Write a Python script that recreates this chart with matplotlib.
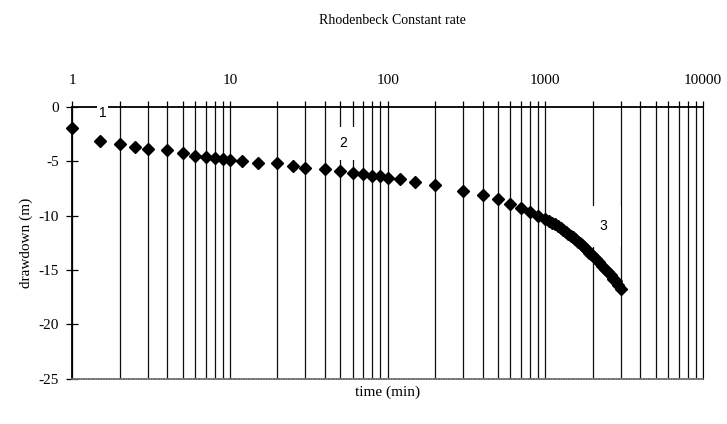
import numpy as np
import matplotlib.pyplot as plt
from matplotlib.ticker import LogLocator, FixedLocator, NullFormatter

# time (min) and drawdown (m)
time_min = [1, 1.5, 2, 2.5, 3, 4, 5, 6, 7, 8, 9, 10, 12, 15, 20, 25, 30, 40,
            50, 60, 70, 80, 90, 100, 120, 150, 200, 300, 400, 500, 600, 700,
            800, 900, 1000, 1050, 1100, 1150, 1200, 1250, 1300, 1350, 1400,
            1450, 1500, 1550, 1600, 1650, 1700, 1750, 1800, 1850, 1900, 1950,
            2000, 2100, 2200, 2300, 2400, 2500, 2600, 2700, 2800, 2900, 3000]
drawdown = [-1.95, -3.1, -3.45, -3.7, -3.85, -3.95, -4.25, -4.5, -4.6, -4.7,
            -4.8, -4.9, -5.0, -5.15, -5.2, -5.45, -5.6, -5.7, -5.9, -6.05,
            -6.2, -6.35, -6.35, -6.5, -6.65, -6.95, -7.15, -7.7, -8.1, -8.45,
            -8.95, -9.35, -9.65, -10.05, -10.3, -10.5, -10.65, -10.8, -11.0,
            -11.15, -11.3, -11.5, -11.7, -11.85, -12.0, -12.2, -12.4, -12.55,
            -12.7, -12.9, -13.05, -13.2, -13.4, -13.55, -13.7, -14.0, -14.3,
            -14.6, -14.9, -15.2, -15.5, -15.8, -16.05, -16.35, -16.75]

segment_labels = ["1", "2", "3"]
segment_x = [1.55, 52, 2320]
segment_y = [-0.55, -3.35, -11.0]

major_ticks = [1, 10, 100, 1000, 10000]
y_ticks = [0, -5, -10, -15, -20, -25]

plt.rcParams['font.family'] = ['Liberation Serif', 'DejaVu Serif']
plt.rcParams['axes.unicode_minus'] = False

fig = plt.figure(figsize=(7.27, 4.24), dpi=100)
ax = fig.add_axes([0.0995, 0.107, 0.8675, 0.641])

ax.set_xscale('log')
ax.set_xlim(1, 10000)
ax.set_ylim(-25, 0)

ax.plot(time_min, drawdown, linestyle='none', marker='D', markersize=5.8,
        color='black', zorder=5, clip_on=False)

# x axis on top
ax.xaxis.tick_top()
ax.xaxis.set_major_locator(FixedLocator(major_ticks))
ax.set_xticklabels([str(t) for t in major_ticks])
ax.xaxis.set_minor_locator(LogLocator(base=10, subs=np.arange(2, 10), numticks=20))
ax.xaxis.set_minor_formatter(NullFormatter())
ax.tick_params(axis='x', which='both', direction='out', length=4, width=0.9,
               color='black', pad=10, labelsize=11)
ax.grid(True, which='both', axis='x', color='0.05', linewidth=0.9)
ax.set_axisbelow(True)

ax.set_yticks(y_ticks)
ax.set_yticklabels([str(v) for v in y_ticks])
ax.tick_params(axis='y', direction='inout', length=9, width=0.9, pad=5,
               labelsize=11)

ax.spines['top'].set_linewidth(1.3)
ax.spines['left'].set_linewidth(1.3)
ax.spines['right'].set_linewidth(0.8)
ax.spines['bottom'].set_linewidth(1.2)
ax.spines['bottom'].set_color('0.45')
ax.spines['bottom'].set_linestyle((0, (1, 0.5)))

# segment numbers sit in white boxes that cut the grid lines
pads = [1, 7, 10]
for lab, x, y, p in zip(segment_labels, segment_x, segment_y, pads):
    ax.text(x, y, lab, ha='center', va='center', fontsize=10,
            family=['Liberation Sans', 'DejaVu Sans'], zorder=4,
            bbox=dict(facecolor='white', edgecolor='none', pad=p))

fig.text(0.54, 0.952, "Rhodenbeck Constant rate", ha='center', va='center',
         fontsize=10)
ax.set_xlabel("time (min)", fontsize=11, labelpad=5)
ax.xaxis.set_label_position('bottom')
ax.set_ylabel("drawdown (m)", fontsize=11, labelpad=4)

fig.savefig("out.png", dpi=100)
